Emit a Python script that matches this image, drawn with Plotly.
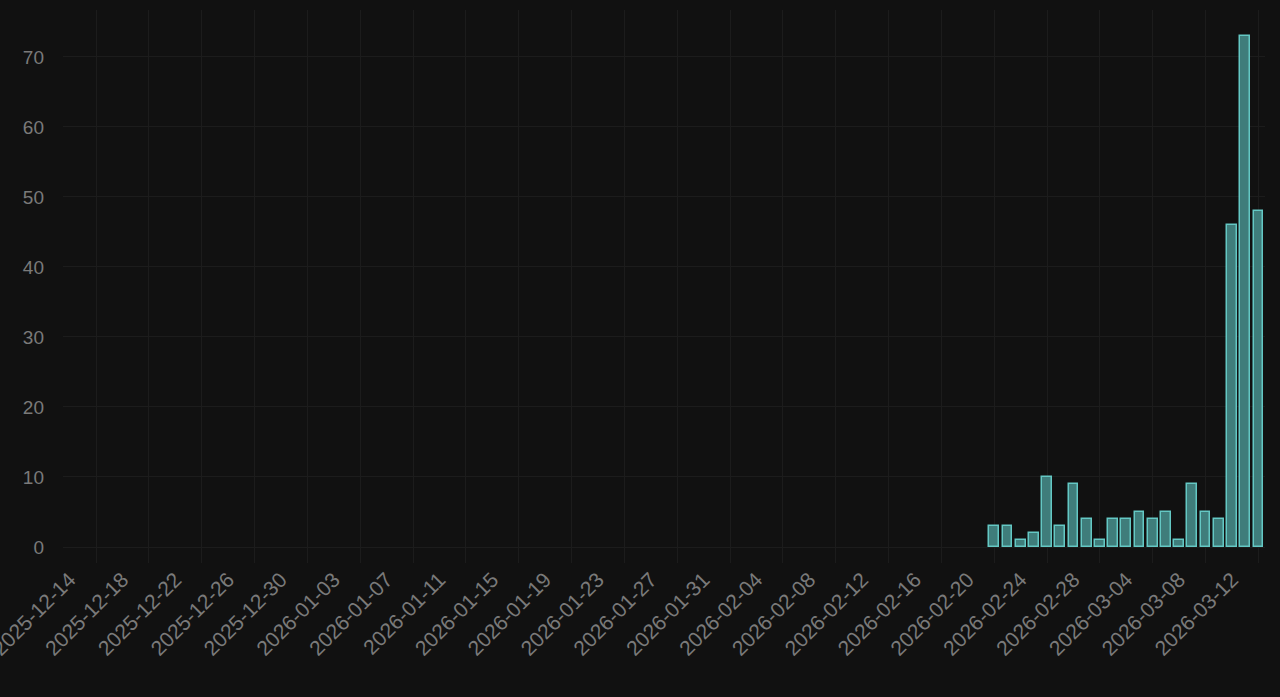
import pandas as pd
import plotly.graph_objects as go

# daily counts (only days with activity are drawn)
days = [
    "2026-02-22", "2026-02-23", "2026-02-24", "2026-02-25", "2026-02-26",
    "2026-02-27", "2026-02-28", "2026-03-01", "2026-03-02", "2026-03-03",
    "2026-03-04", "2026-03-05", "2026-03-06", "2026-03-07", "2026-03-08",
    "2026-03-09", "2026-03-10", "2026-03-11", "2026-03-12", "2026-03-13",
    "2026-03-14",
]
counts = [3, 3, 1, 2, 10, 3, 9, 4, 1, 4, 4, 5, 4, 5, 1, 9, 5, 4, 46, 73, 48]

start_day = "2025-12-14"
end_day = "2026-03-14"

DAY_MS = 86400000
bg = "#111111"
grid = "#1c1c1c"
label_col = "#7a7a7a"

# labelled days every 4th day from the start, grid lines offset by 2 days
label_days = pd.date_range(start_day, end_day, freq="4D")
grid_days = pd.date_range(pd.Timestamp(start_day) + pd.Timedelta(days=2), end_day, freq="4D")

fig = go.Figure()
fig.add_trace(go.Bar(
    x=days,
    y=counts,
    width=0.74 * DAY_MS,
    marker=dict(color="#3f7d7b", line=dict(color="#64c8c4", width=1.5)),
    hoverinfo="x+y",
))

fig.update_layout(
    width=1280,
    height=697,
    paper_bgcolor=bg,
    plot_bgcolor=bg,
    margin=dict(l=63, r=15, t=10, b=150),
    font=dict(family="Liberation Sans, Arial, sans-serif", size=19, color=label_col),
    showlegend=False,
    bargap=0,
    xaxis=dict(
        type="date",
        automargin=False,
        range=[pd.Timestamp(start_day) - pd.Timedelta(hours=12),
               pd.Timestamp(end_day) + pd.Timedelta(hours=12)],
        tickmode="array",
        tickvals=list(label_days),
        ticktext=[d.strftime("%Y-%m-%d") for d in label_days],
        tickangle=-45,
        tickfont=dict(size=21, color=label_col),
        ticklabeloverflow="allow",
        showgrid=False,
        ticks="outside",
        ticklen=10,
        tickcolor=bg,
        ticklabelstandoff=1,
        zeroline=False,
        showline=False,
        minor=dict(
            tickmode="array",
            tickvals=list(grid_days),
            showgrid=True,
            gridcolor=grid,
            gridwidth=1,
            ticks="outside",
            ticklen=15,
            tickcolor=grid,
        ),
    ),
    yaxis=dict(
        automargin=False,
        range=[0, 76.7],
        dtick=10,
        showgrid=True,
        gridcolor=grid,
        gridwidth=1,
        zeroline=True,
        zerolinecolor=grid,
        zerolinewidth=1,
        ticklabelstandoff=18,
        tickfont=dict(size=19, color=label_col),
    ),
)

fig.write_html(
    "out.html",
    config={"displayModeBar": False},
    post_script="document.body.style.margin='0';document.body.style.background='#111111';",
)
